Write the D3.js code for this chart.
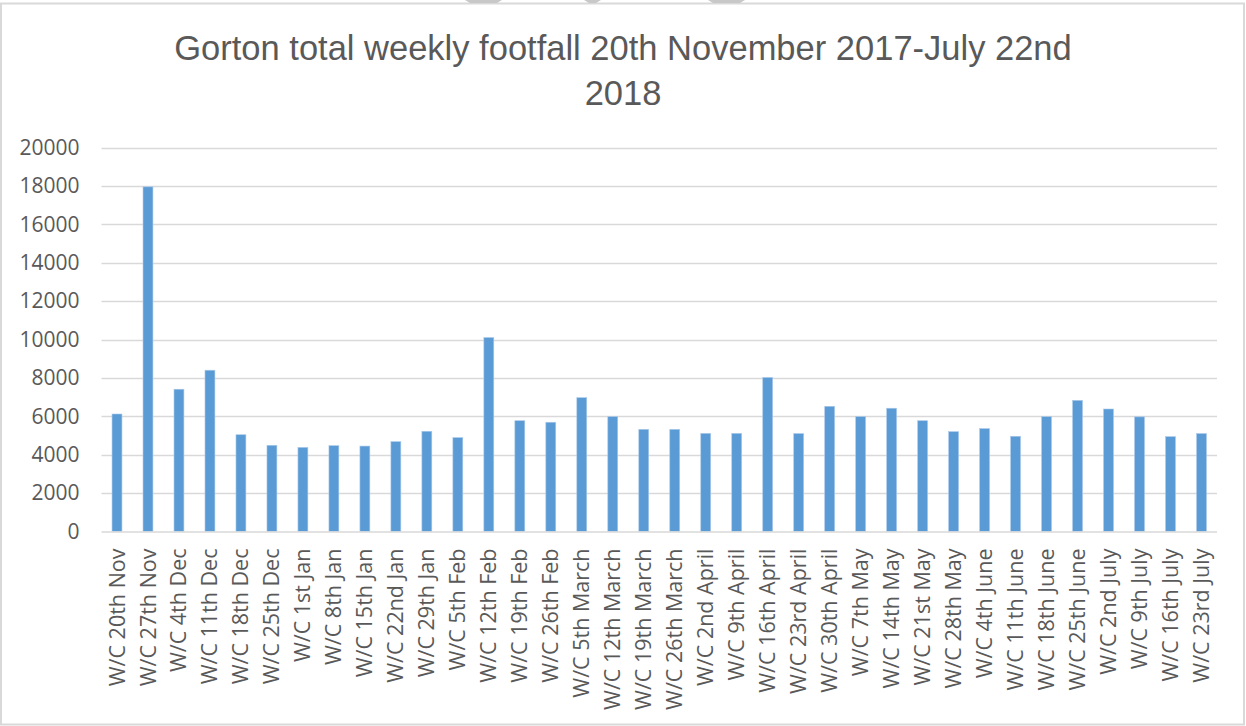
<!DOCTYPE html>
<html>
<head>
<meta charset="utf-8">
<script src="https://cdn.jsdelivr.net/npm/d3@7"></script>
<style>
  html, body { margin: 0; padding: 0; background: #ffffff; }
  svg { display: block; }
</style>
</head>
<body>
<svg id="chart" width="1246" height="726"></svg>
<script>
// Week-commencing labels along the x axis
const weeks = [
  "W/C 20th Nov", "W/C 27th Nov", "W/C 4th Dec", "W/C 11th Dec", "W/C 18th Dec",
  "W/C 25th Dec", "W/C 1st Jan", "W/C 8th Jan", "W/C 15th Jan", "W/C 22nd Jan",
  "W/C 29th Jan", "W/C 5th Feb", "W/C 12th Feb", "W/C 19th Feb", "W/C 26th Feb",
  "W/C 5th March", "W/C 12th March", "W/C 19th March", "W/C 26th March",
  "W/C 2nd April", "W/C 9th April", "W/C 16th April", "W/C 23rd April",
  "W/C 30th April", "W/C 7th May", "W/C 14th May", "W/C 21st May", "W/C 28th May",
  "W/C 4th June", "W/C 11th June", "W/C 18th June", "W/C 25th June",
  "W/C 2nd July", "W/C 9th July", "W/C 16th July", "W/C 23rd July"
];

// Total weekly footfall for each week
const footfall = [
  6120, 17950, 7410, 8400, 5040, 4490, 4380, 4470, 4450, 4680,
  5220, 4890, 10100, 5770, 5690, 6970, 5980, 5320, 5320,
  5110, 5110, 8020, 5100, 6520, 5980, 6420, 5770, 5200,
  5360, 4960, 5980, 6830, 6380, 5970, 4940, 5100
];

// Value axis ticks
const yTicks = [0, 2000, 4000, 6000, 8000, 10000, 12000, 14000, 16000, 18000, 20000];

const titleLines = ["Gorton total weekly footfall 20th November 2017-July 22nd", "2018"];

const svg = d3.select("#chart");
const W = 1246, H = 726;
const plot = { left: 101.5, right: 1217, top: 147.5, bottom: 531.5 };

// Outer chart frame
svg.append("rect")
  .attr("x", 1).attr("y", 3.5)
  .attr("width", W - 3).attr("height", H - 5)
  .attr("fill", "#ffffff")
  .attr("stroke", "#d9d9d9")
  .attr("stroke-width", 2);

// Small tabs along the top edge of the frame
const tabs = [[465, 502], [584, 601], [708, 745]];
svg.selectAll("path.tab").data(tabs).join("path")
  .attr("class", "tab")
  .attr("d", d => `M${d[0]},0 L${d[1]},0 L${d[1] - 5},3 L${d[0] + 5},3 Z`)
  .attr("fill", "#c8c8c8");

const x = d3.scaleBand()
  .domain(weeks)
  .range([plot.left, plot.right])
  .paddingInner(0.68)
  .paddingOuter(0.34);

const y = d3.scaleLinear()
  .domain([0, 20000])
  .range([plot.bottom, plot.top]);

// Horizontal gridlines
svg.append("g")
  .selectAll("line")
  .data(yTicks.filter(t => t > 0))
  .join("line")
  .attr("x1", plot.left).attr("x2", plot.right)
  .attr("y1", d => Math.round(y(d)) + 0.5).attr("y2", d => Math.round(y(d)) + 0.5)
  .attr("stroke", "#d9d9d9")
  .attr("stroke-width", 1.3);

// Y axis tick labels
const yAxis = d3.axisLeft(y).tickValues(yTicks).tickFormat(d3.format("d"))
  .tickSize(0).tickPadding(22);
const gy = svg.append("g")
  .attr("transform", `translate(${plot.left},0)`)
  .call(yAxis);
gy.select(".domain").remove();
gy.selectAll("text")
  .attr("fill", "#595959")
  .style("font-family", "'Open Sans', 'Liberation Sans', sans-serif")
  .style("font-size", "21px");

// Bars
svg.append("g")
  .selectAll("rect")
  .data(weeks.map((w, i) => ({ w, v: footfall[i] })))
  .join("rect")
  .attr("x", d => x(d.w))
  .attr("y", d => y(d.v))
  .attr("width", x.bandwidth())
  .attr("height", d => y(0) - y(d.v))
  .attr("fill", "#5b9bd5")
  .attr("stroke", "#a9c9ea")
  .attr("stroke-width", 0.6);

// Baseline
svg.append("line")
  .attr("x1", plot.left).attr("x2", plot.right)
  .attr("y1", plot.bottom + 0.5).attr("y2", plot.bottom + 0.5)
  .attr("stroke", "#d9d9d9")
  .attr("stroke-width", 1.3);

// Category labels, rotated
const xAxis = d3.axisBottom(x).tickSize(0).tickPadding(0);
const gx = svg.append("g")
  .attr("transform", `translate(0,${plot.bottom})`)
  .call(xAxis);
gx.select(".domain").remove();
gx.selectAll("text")
  .attr("fill", "#595959")
  .style("font-family", "'Open Sans', 'Liberation Sans', sans-serif")
  .style("font-size", "21.5px")
  .attr("text-anchor", "end")
  .attr("dy", "0.35em")
  .attr("transform", "translate(0,17) rotate(-90)")
  .attr("x", 0).attr("y", 0);

// Title
svg.append("g")
  .selectAll("text")
  .data(titleLines)
  .join("text")
  .attr("x", 623)
  .attr("y", (d, i) => 60 + i * 45)
  .attr("text-anchor", "middle")
  .attr("fill", "#595959")
  .style("font-family", "'Liberation Sans', Arial, sans-serif")
  .style("font-size", "34.5px")
  .text(d => d);
</script>
</body>
</html>
